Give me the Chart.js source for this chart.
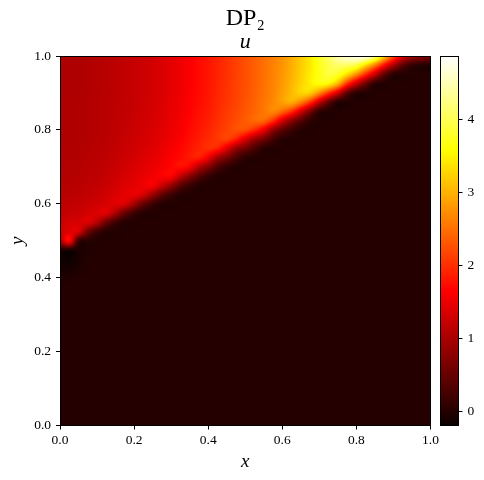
<!DOCTYPE html>
<html>
<head>
<meta charset="utf-8">
<style>
  body { margin: 0; background: #fff; }
  #wrap { position: relative; width: 484px; height: 480px; overflow: hidden; }
  canvas { position: absolute; top: 0; }
</style>
<script src="https://cdn.jsdelivr.net/npm/chart.js@4"></script>
</head>
<body>
<div id="wrap">
  <canvas id="heat" width="484" height="480" style="left:0"></canvas>
  <canvas id="bar" width="54" height="480" style="left:430px"></canvas>
</div>
<script>
const gridX = [0,0.025,0.05,0.075,0.1,0.125,0.15,0.175,0.2,0.225,0.25,0.275,0.3,0.325,0.35,0.375,0.4,0.425,0.45,0.475,0.5,0.525,0.55,0.575,0.6,0.625,0.65,0.675,0.7,0.725,0.75,0.775,0.8,0.825,0.85,0.875,0.9,0.925,0.95,0.975,1];
const gridY = [0,0.025,0.05,0.075,0.1,0.125,0.15,0.175,0.2,0.225,0.25,0.275,0.3,0.325,0.35,0.375,0.4,0.425,0.45,0.475,0.5,0.525,0.55,0.575,0.6,0.625,0.65,0.675,0.7,0.725,0.75,0.775,0.8,0.825,0.85,0.875,0.9,0.925,0.95,0.975,1];
const xTicks = [0, 0.2, 0.4, 0.6, 0.8, 1];
const barTicks = [0, 1, 2, 3, 4];
const vMin = -0.19;
const vMax = 4.87;

// one list per x position, running from y=0 up to y=1
const uColumns = [
  [0,0,0,0,0,0,0,0,0,0, 0,0,0,0,0,0, -0.02,-0.08,-0.13,0,1,1.3,1.25,1.18,1.14,1.12,1.1,1.09,1.08,1.07,1.06, 1.05,1.05,1.05,1.05,1.05,1.04,1.04,1.04,1.04,1.04],
  [0,0,0,0,0,0,0,0,0,0, 0,0,0,0,0,0, -0.02,-0.1,-0.16,-0.05,1.65,1.4,1.35,1.24,1.18,1.14,1.11,1.09,1.08,1.07,1.06, 1.05,1.05,1.05,1.05,1.05,1.04,1.04,1.04,1.04,1.04],
  [0,0,0,0,0,0,0,0,0,0, 0,0,0,0,0,0,0, -0.04,-0.08,-0.05,0.2,1.35,1.34,1.24,1.2,1.16,1.13,1.11,1.09,1.08,1.07, 1.06,1.06,1.06,1.06,1.06,1.05,1.05,1.05,1.05,1.05],
  [0,0,0,0,0,0,0,0,0,0, 0,0,0,0,0,0,0,0,0, -0.03,0.05,0.6,1.38,1.33,1.25,1.2,1.17,1.14,1.12,1.11,1.1, 1.08,1.08,1.08,1.08,1.08,1.07,1.07,1.07,1.07,1.07],
  [0,0,0,0,0,0,0,0,0,0, 0,0,0,0,0,0,0,0,0,0, 0, 0.2,1.1,1.38,1.3,1.24,1.2,1.17,1.15,1.13,1.12,1.11, 1.1,1.1,1.1,1.1,1.1,1.09,1.09,1.09,1.09],
  [0,0,0,0,0,0,0,0,0,0, 0,0,0,0,0,0,0,0,0,0, 0,0.03, 0.55,1.39,1.36,1.3,1.25,1.22,1.19,1.17,1.15,1.14, 1.13,1.13,1.13,1.13,1.12,1.12,1.12,1.12,1.12],
  [0,0,0,0,0,0,0,0,0,0, 0,0,0,0,0,0,0,0,0,0, 0,0, 0.2,1,1.42,1.38,1.32,1.28,1.25,1.22,1.2,1.18,1.17, 1.16,1.16,1.16,1.15,1.15,1.15,1.15,1.15],
  [0,0,0,0,0,0,0,0,0,0, 0,0,0,0,0,0,0,0,0,0, 0,0,0.02, 0.5,1.35,1.45,1.4,1.35,1.31,1.28,1.25,1.23,1.21,1.2, 1.19,1.19,1.19,1.19,1.19,1.19,1.19],
  [0,0,0,0,0,0,0,0,0,0, 0,0,0,0,0,0,0,0,0,0, 0,0,0, 0.2,0.95,1.48,1.46,1.41,1.37,1.33,1.3,1.28,1.26,1.25,1.24, 1.23,1.23,1.23,1.23,1.23,1.23],
  [0,0,0,0,0,0,0,0,0,0, 0,0,0,0,0,0,0,0,0,0, 0,0,0,0.02, 0.5,1.32,1.53,1.49,1.44,1.4,1.36,1.33,1.31,1.3,1.29,1.28, 1.27,1.27,1.27,1.27,1.27],
  [0,0,0,0,0,0,0,0,0,0, 0,0,0,0,0,0,0,0,0,0, 0,0,0,0, 0.2,0.9,1.58,1.56,1.5,1.46,1.42,1.39,1.37,1.35,1.34,1.33, 1.32,1.32,1.32,1.32,1.32],
  [0,0,0,0,0,0,0,0,0,0, 0,0,0,0,0,0,0,0,0,0, 0,0,0,0,0.03, 0.48,1.26,1.63,1.59,1.54,1.5,1.46,1.43,1.41,1.4,1.39, 1.38,1.38,1.38,1.38,1.38],
  [0,0,0,0,0,0,0,0,0,0, 0,0,0,0,0,0,0,0,0,0, 0,0,0,0,0, 0.2,0.88,1.63,1.68,1.64,1.59,1.55,1.52,1.5,1.48,1.47, 1.46,1.46,1.46,1.46,1.46],
  [0,0,0,0,0,0,0,0,0,0, 0,0,0,0,0,0,0,0,0,0, 0,0,0,0,0,0.03, 0.43,1.19,1.75,1.72,1.68,1.64,1.6,1.58,1.56,1.55, 1.54,1.54,1.54,1.54,1.54],
  [0,0,0,0,0,0,0,0,0,0, 0,0,0,0,0,0,0,0,0,0, 0,0,0,0,0,0, 0.18,0.78,1.6,1.82,1.79,1.75,1.72,1.69,1.66,1.65,1.64, 1.63,1.63,1.63,1.63],
  [0,0,0,0,0,0,0,0,0,0, 0,0,0,0,0,0,0,0,0,0, 0,0,0,0,0,0,0.02, 0.4,1.08,1.86,1.9,1.86,1.82,1.79,1.76,1.74,1.73, 1.72,1.72,1.72,1.72],
  [0,0,0,0,0,0,0,0,0,0, 0,0,0,0,0,0,0,0,0,0, 0,0,0,0,0,0,0, 0.15,0.72,1.52,1.98,1.96,1.92,1.88,1.85,1.83,1.82, 1.81,1.81,1.81,1.81],
  [0,0,0,0,0,0,0,0,0,0, 0,0,0,0,0,0,0,0,0,0, 0,0,0,0,0,0,0,0.02, 0.33,0.97,1.87,2.06,2.04,2,1.97,1.95,1.93,1.92, 1.91,1.91,1.91],
  [0,0,0,0,0,0,0,0,0,0, 0,0,0,0,0,0,0,0,0,0, 0,0,0,0,0,0,0,0, 0.12,0.65,1.42,2.13,2.15,2.12,2.09,2.06,2.04,2.03, 2.02,2.02,2.02],
  [0,0,0,0,0,0,0,0,0,0, 0,0,0,0,0,0,0,0,0,0, 0,0,0,0,0,0,0,0,0.01, 0.3,0.87,1.86,2.24,2.22,2.19,2.16,2.15,2.14, 2.13,2.13,2.13],
  [0,0,0,0,0,0,0,0,0,0, 0,0,0,0,0,0,0,0,0,0, 0,0,0,0,0,0,0,0,0, 0.08,0.6,1.38,2.21,2.33,2.31,2.28,2.26, 2.25,2.25,2.25,2.25],
  [0,0,0,0,0,0,0,0,0,0, 0,0,0,0,0,0,0,0,0,0, 0,0,0,0,0,0,0,0,0,0.01, 0.3,0.9,1.94,2.43,2.42,2.4,2.38, 2.37,2.37,2.37,2.37],
  [0,0,0,0,0,0,0,0,0,0, 0,0,0,0,0,0,0,0,0,0, 0,0,0,0,0,0,0,0,0,0, 0.06,0.62,1.5,2.42,2.55,2.54,2.52,2.51, 2.5,2.5,2.5],
  [0,0,0,0,0,0,0,0,0,0, 0,0,0,0,0,0,0,0,0,0, 0,0,0,0,0,0,0,0,0,0, 0.01, 0.25,0.86,2,2.67,2.68,2.66,2.65,2.64, 2.63,2.63],
  [0,0,0,0,0,0,0,0,0,0, 0,0,0,0,0,0,0,0,0,0, 0,0,0,0,0,0,0,0,0,0, 0,0.05, 0.45,1.34,2.42,2.85,2.85,2.82,2.8,2.78,2.77],
  [0,0,0,0,0,0,0,0,0,0, 0,0,0,0,0,0,0,0,0,0, 0,0,0,0,0,0,0,0,0,0, 0,0, 0.2,0.8,2,2.95,3.05,3.03,3,2.97,2.97],
  [0,0,0,0,0,0,0,0,0,0, 0,0,0,0,0,0,0,0,0,0, 0,0,0,0,0,0,0,0,0,0, 0,0,0.02, 0.4,1.33,2.63,3.25,3.25,3.22,3.19,3.2],
  [0,0,0,0,0,0,0,0,0,0, 0,0,0,0,0,0,0,0,0,0, 0,0,0,0,0,0,0,0,0,0, 0,0,0, 0.1,0.66,2.04,3.2,3.45,3.45,3.42,3.45],
  [0,0,0,0,0,0,0,0,0,0, 0,0,0,0,0,0,0,0,0,0, 0,0,0,0,0,0,0,0,0,0, 0,0,0,0, 0.11,1.2,2.7,3.6,3.68,3.7,3.8],
  [0,0,0,0,0,0,0,0,0,0, 0,0,0,0,0,0,0,0,0,0, 0,0,0,0,0,0,0,0,0,0, 0,0,0,0,0, 0.5,2.02,3.5,3.88,3.95,4.1],
  [0,0,0,0,0,0,0,0,0,0, 0,0,0,0,0,0,0,0,0,0, 0,0,0,0,0,0,0,0,0,0, 0,0,0,0,0, 0.03,1.3,3,3.75,4.1,4.5],
  [0,0,0,0,0,0,0,0,0,0, 0,0,0,0,0,0,0,0,0,0, 0,0,0,0,0,0,0,0,0,0, 0,0,0,0,0,0, 0.45,2,3.3,4.05,4.7],
  [0,0,0,0,0,0,0,0,0,0, 0,0,0,0,0,0,0,0,0,0, 0,0,0,0,0,0,0,0,0,0, 0,0,0,0,0,0, 0.05,1.2,2.7,3.9,4.8],
  [0,0,0,0,0,0,0,0,0,0, 0,0,0,0,0,0,0,0,0,0, 0,0,0,0,0,0,0,0,0,0, 0,0,0,0,0,0,0, 0.55,1.95,3.3,4.75],
  [0,0,0,0,0,0,0,0,0,0, 0,0,0,0,0,0,0,0,0,0, 0,0,0,0,0,0,0,0,0,0, 0,0,0,0,0,0,0, 0.08,1.2,2.6,4.2],
  [0,0,0,0,0,0,0,0,0,0, 0,0,0,0,0,0,0,0,0,0, 0,0,0,0,0,0,0,0,0,0, 0,0,0,0,0,0,0,0, 0.45,1.75,3.2],
  [0,0,0,0,0,0,0,0,0,0, 0,0,0,0,0,0,0,0,0,0, 0,0,0,0,0,0,0,0,0,0, 0,0,0,0,0,0,0,0, 0.05,1,2.2],
  [0,0,0,0,0,0,0,0,0,0, 0,0,0,0,0,0,0,0,0,0, 0,0,0,0,0,0,0,0,0,0, 0,0,0,0,0,0,0,0,0, 0.42,1.4],
  [0,0,0,0,0,0,0,0,0,0, 0,0,0,0,0,0,0,0,0,0, 0,0,0,0,0,0,0,0,0,0, 0,0,0,0,0,0,0,0,0, 0.12,0.95],
  [0,0,0,0,0,0,0,0,0,0, 0,0,0,0,0,0,0,0,0,0, 0,0,0,0,0,0,0,0,0,0, 0,0,0,0,0,0,0,0,0, 0.02,0.8],
  [0,0,0,0,0,0,0,0,0,0, 0,0,0,0,0,0,0,0,0,0, 0,0,0,0,0,0,0,0,0,0, 0,0,0,0,0,0,0,0,0,0, 0.65],
];

const serif = "'Liberation Serif', serif";

// matplotlib "hot" colour map
function hot(v) {
  const t = Math.min(1, Math.max(0, (v - vMin) / (vMax - vMin)));
  const r = Math.min(1, 0.0416 + t * 2.625);
  const g = Math.min(1, Math.max(0, (t - 0.365) / 0.381));
  const b = Math.min(1, Math.max(0, (t - 0.746) / 0.254));
  return [r * 255, g * 255, b * 255];
}

// catmull-rom weights, only for the display smoothing between grid cells
function weights(a) {
  return [
    -0.5 * a + a * a - 0.5 * a * a * a,
    1 - 2.5 * a * a + 1.5 * a * a * a,
    0.5 * a + 2 * a * a - 1.5 * a * a * a,
    -0.5 * a * a + 0.5 * a * a * a,
  ];
}

function sampleGrid(x, y) {
  const nx = gridX.length - 1;
  const ny = gridY.length - 1;
  const fx = Math.min(nx, Math.max(0, x * nx));
  const fy = Math.min(ny, Math.max(0, y * ny));
  const i = Math.floor(fx);
  const j = Math.floor(fy);
  const wx = weights(fx - i);
  const wy = weights(fy - j);
  let sum = 0;
  for (let a = 0; a < 4; a++) {
    const col = uColumns[Math.min(nx, Math.max(0, i + a - 1))];
    for (let b = 0; b < 4; b++) {
      sum += wx[a] * wy[b] * col[Math.min(ny, Math.max(0, j + b - 1))];
    }
  }
  return sum;
}

const heatPlugin = {
  id: "heatPlugin",
  beforeDatasetsDraw(chart) {
    const { left, top } = chart.chartArea;
    const width = Math.ceil(chart.chartArea.width);
    const height = Math.ceil(chart.chartArea.height);
    const img = chart.ctx.createImageData(width, height);
    for (let py = 0; py < height; py++) {
      const y = chart.scales.y.getValueForPixel(top + py + 0.5);
      for (let px = 0; px < width; px++) {
        const x = chart.scales.x.getValueForPixel(left + px + 0.5);
        const c = hot(sampleGrid(x, y));
        const k = (py * width + px) * 4;
        img.data[k] = c[0];
        img.data[k + 1] = c[1];
        img.data[k + 2] = c[2];
        img.data[k + 3] = 255;
      }
    }
    chart.ctx.putImageData(img, left, top);
  },
};

const framePlugin = {
  id: "framePlugin",
  afterDraw(chart) {
    const a = chart.chartArea;
    const x0 = Math.floor(a.left) + 0.5;
    const x1 = Math.floor(a.right) + 0.5;
    const y0 = Math.floor(a.top) + 0.5;
    const y1 = Math.floor(a.bottom) + 0.5;
    const ctx = chart.ctx;
    ctx.save();
    ctx.strokeStyle = "#000";
    ctx.lineWidth = 1;
    ctx.strokeRect(x0, y0, x1 - x0, y1 - y0);
    ctx.restore();
  },
};

const cells = [];
gridX.forEach((x, i) => {
  gridY.forEach((y, j) => {
    cells.push({ x: x, y: y, v: uColumns[i][j] });
  });
});

const heatChart = new Chart(document.getElementById("heat"), {
  type: "scatter",
  data: {
    datasets: [{ label: "u", data: cells, pointRadius: 0 }],
  },
  plugins: [heatPlugin, framePlugin],
  options: {
    responsive: false,
    animation: false,
    layout: { autoPadding: false, padding: { left: 0, right: 53.5, top: 0, bottom: 0 } },
    plugins: {
      legend: { display: false },
      tooltip: { enabled: false },
      title: {
        display: true,
        text: "DP₂",
        fullSize: false,
        color: "#000",
        font: { family: serif, size: 24, weight: "normal", lineHeight: 1 },
        padding: { top: 7, bottom: 0 },
      },
      subtitle: {
        display: true,
        text: "u",
        fullSize: false,
        color: "#000",
        font: { family: serif, size: 22, style: "italic", weight: "normal", lineHeight: 1 },
        padding: { top: 0, bottom: 3 },
      },
    },
    scales: {
      x: {
        type: "linear",
        min: 0,
        max: 1,
        afterFit: (scale) => { scale.height = 54.5; },
        afterBuildTicks: (scale) => { scale.ticks = xTicks.map((v) => ({ value: v })); },
        grid: { drawOnChartArea: false, tickColor: "#000", tickLength: 4, drawTicks: true },
        border: { display: false },
        ticks: {
          color: "#000",
          font: { family: serif, size: 13.5 },
          padding: 3,
          maxRotation: 0,
          autoSkip: false,
          callback: (v) => v.toFixed(1),
        },
        title: {
          display: true,
          text: "x",
          color: "#000",
          font: { family: serif, size: 19, style: "italic", lineHeight: 1 },
          padding: { top: 0, bottom: 9 },
        },
      },
      y: {
        type: "linear",
        min: 0,
        max: 1,
        afterFit: (scale) => { scale.width = 60; },
        afterBuildTicks: (scale) => { scale.ticks = xTicks.map((v) => ({ value: v })); },
        grid: { drawOnChartArea: false, tickColor: "#000", tickLength: 4, drawTicks: true },
        border: { display: false },
        ticks: {
          color: "#000",
          font: { family: serif, size: 13.5 },
          padding: 5,
          autoSkip: false,
          callback: (v) => v.toFixed(1),
        },
        title: {
          display: true,
          text: "y",
          color: "#000",
          font: { family: serif, size: 19, style: "italic", lineHeight: 1 },
          padding: { top: 8, bottom: 0 },
        },
      },
    },
  },
});

function barGradient(ctx) {
  const area = ctx.chart.chartArea;
  if (!area) return "#000";
  const g = ctx.chart.ctx.createLinearGradient(0, area.bottom, 0, area.top);
  g.addColorStop(0, "#0b0000");
  g.addColorStop(0.365, "#ff0000");
  g.addColorStop(0.746, "#ffff00");
  g.addColorStop(1, "#ffffff");
  return g;
}

const barChart = new Chart(document.getElementById("bar"), {
  type: "bar",
  data: {
    labels: ["u"],
    datasets: [
      {
        data: [[vMin, vMax]],
        backgroundColor: barGradient,
        borderWidth: 0,
        barPercentage: 1,
        categoryPercentage: 1,
      },
    ],
  },
  plugins: [framePlugin],
  options: {
    responsive: false,
    animation: false,
    layout: { autoPadding: false, padding: { left: 10, right: 0, top: 56, bottom: 54.5 } },
    plugins: { legend: { display: false }, tooltip: { enabled: false } },
    scales: {
      x: { display: false },
      y: {
        position: "right",
        min: vMin,
        max: vMax,
        afterFit: (scale) => { scale.width = 25.5; },
        afterBuildTicks: (scale) => { scale.ticks = barTicks.map((v) => ({ value: v })); },
        grid: { drawOnChartArea: false, tickColor: "#000", tickLength: 4, drawTicks: true },
        border: { display: false },
        ticks: {
          color: "#000",
          font: { family: serif, size: 13.5 },
          padding: 5,
          autoSkip: false,
        },
      },
    },
  },
});
</script>
</body>
</html>
